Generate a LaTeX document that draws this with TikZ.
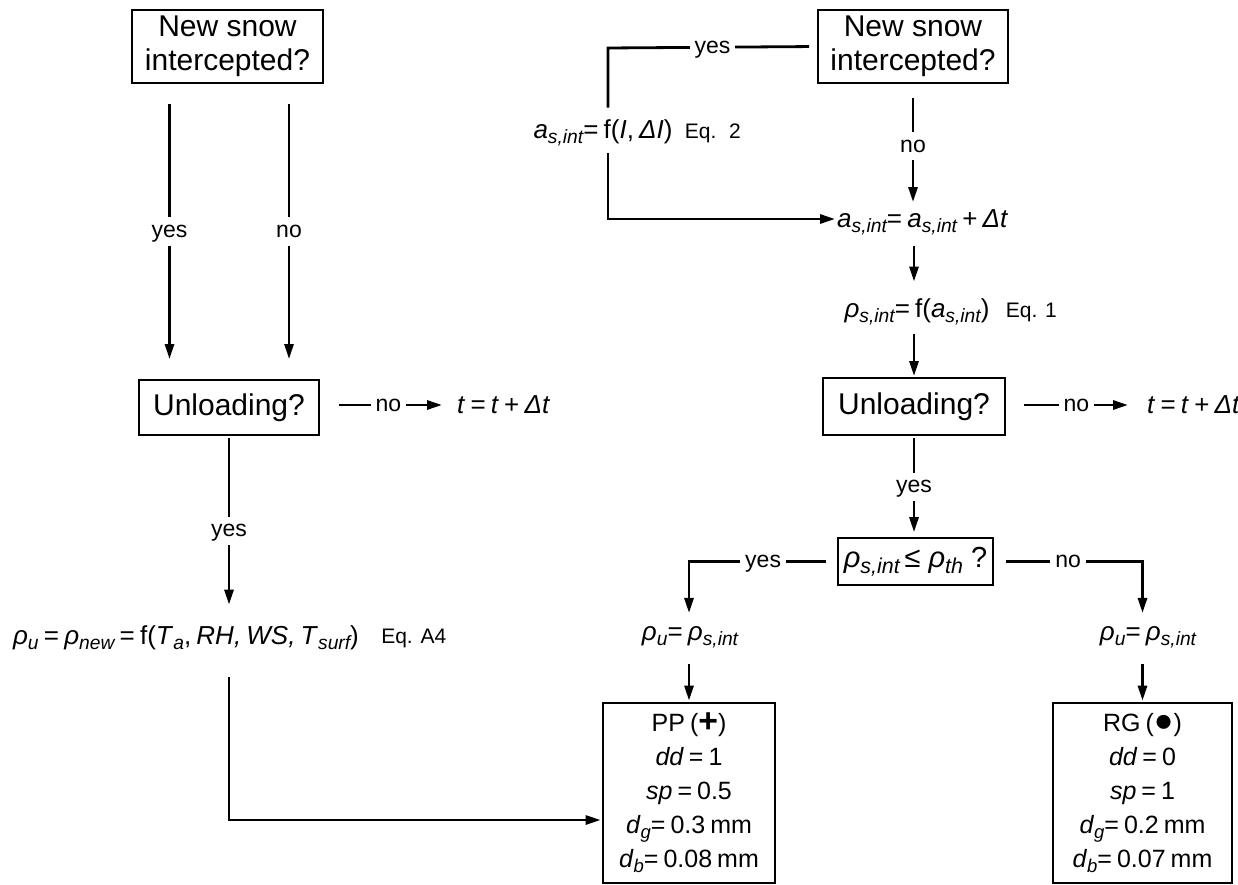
\documentclass[tikz,border=0pt]{standalone}
\usepackage{fontspec}
\usepackage{graphicx}
\setmainfont{Liberation Sans}
\usetikzlibrary{arrows.meta,calc}
\newcommand\sbi[1]{\raisebox{-0.2em}{\scalebox{0.74}{\itshape #1}}}
\newcommand\ii[1]{\textit{#1}}
\newcommand\tightsp{\spaceskip=0.2em plus 0.05em\relax}
\begin{document}
\begin{tikzpicture}[x=1pt,y=-1pt,
  conn/.style={line width=2.8pt},
  arr/.style={conn,-{Triangle[length=15pt,width=9pt]}},
  bigbox/.style={draw,line width=1.9pt,font=\fontsize{30}{34}\selectfont,align=center,inner sep=0pt},
  lbl/.style={fill=white,inner xsep=5pt,inner ysep=6pt,text height=14pt,text depth=2pt,font=\fontsize{23}{26}\selectfont},
  eqn/.style={inner sep=0pt,font=\fontsize{26}{30}\selectfont\tightsp},
  eqref/.style={inner sep=0pt,font=\fontsize{21}{26}\selectfont},
  resbox/.style={draw,line width=2.7pt,font=\fontsize{25}{34}\selectfont\tightsp,align=center,inner sep=0pt,minimum height=180pt}
]
\useasboundingbox (0,0) rectangle (1238,885);

% ---------- left branch ----------
\node[bigbox,minimum width=191pt,minimum height=73pt] (qL) at (227.5,46.5) {New snow\\intercepted?};
\node[bigbox,minimum width=180pt,minimum height=55pt] (uL) at (229,407.5) {Unloading?};
\node[eqn,anchor=west] (tL) at (457,405) {\ii{t} = \ii{t} + \ii{Δt}};
\node[eqn] (rhoL) at (186,638) {\ii{ρ}\sbi{u} = \ii{ρ}\sbi{new} = f(\ii{T}\sbi{a}, \ii{RH, WS, T}\sbi{surf})};
\node[eqref,anchor=west] (eqA4) at ($(rhoL.east)+(22,0)$) {Eq. A4};

\draw[arr,shorten <=20pt,shorten >=20pt] ([xshift=-58pt]qL.south) -- node[lbl]{yes} ([xshift=-58pt]qL.south |- uL.north);
\draw[arr,shorten <=20pt,shorten >=20pt] ([xshift=61.5pt]qL.south) -- node[lbl]{no} ([xshift=61.5pt]qL.south |- uL.north);
\draw[arr,shorten <=19pt,shorten >=15pt] (uL.east |- tL.west) -- node[lbl]{no} (tL.west);
\draw[arr,shorten <=2pt,shorten >=21pt] (uL.south) -- node[lbl]{yes} (uL.south |- rhoL.north);

% ---------- right branch ----------
\node[bigbox,minimum width=190pt,minimum height=73pt] (qR) at (913,46.5) {New snow\\intercepted?};
\coordinate (cT) at (608,48);
\coordinate (cB) at (608,219);
\node[eqn] (fI) at (603,133) {\ii{a}\sbi{s,int}= f(\ii{I}, \ii{ΔI})};
\node[eqref,anchor=west] (eq2) at ($(fI.east)+(12,0)$) {Eq.\hspace{0.6em}2};
\node[eqn,anchor=west] (aI) at (837,222) {\ii{a}\sbi{s,int}= \ii{a}\sbi{s,int} + \ii{Δt}};
\node[eqn] (rI) at (917,312) {\ii{ρ}\sbi{s,int}= f(\ii{a}\sbi{s,int})};
\node[eqref,anchor=west] (eq1) at ($(rI.east)+(16,0)$) {Eq. 1};
\node[bigbox,minimum width=182pt,minimum height=57pt] (uR) at (914,406.5) {Unloading?};
\node[eqn,anchor=west] (tR) at (1147,405) {\ii{t} = \ii{t} + \ii{Δt}};
\node[draw,line width=1.6pt,minimum width=155pt,minimum height=47pt,inner sep=0pt,font=\fontsize{29}{32}\selectfont] (thr) at (915.5,561.5) {\ii{ρ}\sbi{s,int}\,≤ \ii{ρ}\sbi{th} ?};
\node[eqn] (rUL) at (690,637) {\ii{ρ}\sbi{u}= \ii{ρ}\sbi{s,int}};
\node[eqn] (rUR) at (1148,637) {\ii{ρ}\sbi{u}= \ii{ρ}\sbi{s,int}};
\node[resbox,minimum width=172pt] (pp) at (689,793) {PP (\raisebox{-0.05em}{\scalebox{1.35}{\textbf{+}}})\\\ii{dd} = 1\\\ii{sp} = 0.5\\\ii{d}\sbi{g}= 0.3 mm\\\ii{d}\sbi{b}= 0.08 mm};
\node[resbox,minimum width=179pt] (rg) at (1142.5,793) {RG (\raisebox{-0.02em}{\scalebox{1.3}{●}})\\\ii{dd} = 0\\\ii{sp} = 1\\\ii{d}\sbi{g}= 0.2 mm\\\ii{d}\sbi{b}= 0.07 mm};

\draw[conn,shorten <=8pt,shorten >=12pt] (qR.west) -- node[lbl]{yes} (cT) -- (cT |- fI.north);
\draw[arr,shorten <=7pt,shorten >=2pt] (cT |- fI.south) -- (cB) -- (cB -| aI.west);
\draw[arr,shorten <=14pt,shorten >=7pt] (qR.south) -- node[lbl]{no} (qR.south |- aI.north);
\draw[arr,shorten <=11pt,shorten >=17pt] (uR.north |- aI.south) -- (uR.north |- rI.north);
\draw[arr,shorten <=9pt,shorten >=1pt] (uR.north |- rI.south) -- (uR.north);
\draw[arr,shorten <=18pt,shorten >=19pt] (uR.east |- tR.west) -- node[lbl]{no} (tR.west);
\draw[arr,shorten <=2pt,shorten >=5pt] (uR.south) -- node[lbl]{yes} (uR.south |- thr.north);
\draw[arr,shorten <=11pt,shorten >=13pt] (thr.west) -| node[lbl,pos=0.25]{yes} (pp.north |- rUL.north);
\draw[arr,shorten <=12pt,shorten >=13pt] (thr.east) -| node[lbl,pos=0.25]{no} (rg.north |- rUR.north);
\draw[arr,shorten <=16pt,shorten >=1pt] (rUL.south -| pp.north) -- (pp.north);
\draw[arr,shorten <=16pt,shorten >=1pt] (rUR.south -| rg.north) -- (rg.north);

% ---------- left to PP ----------
\draw[arr,shorten <=27pt,shorten >=1pt] (uL.south |- rhoL.south) |- ([yshift=-27pt]pp.west);
\end{tikzpicture}
\end{document}
